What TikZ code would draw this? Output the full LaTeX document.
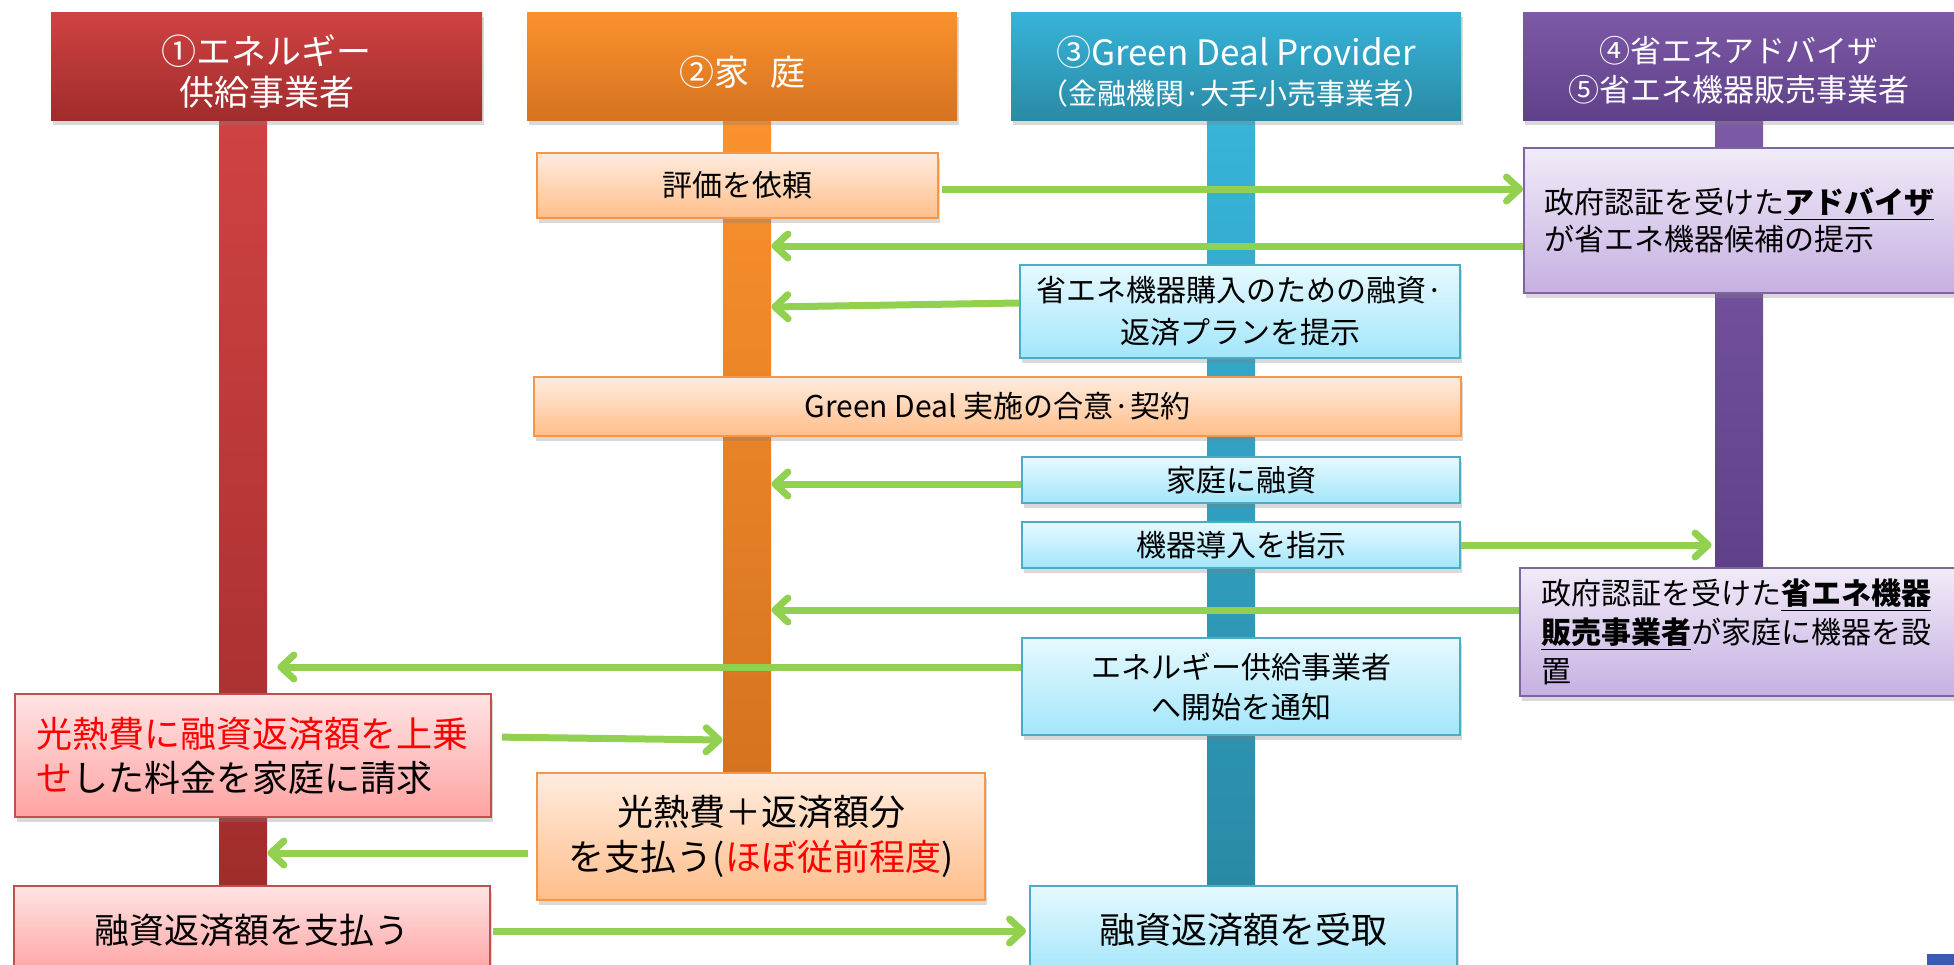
\documentclass[tikz,border=0pt]{standalone}
\usepackage{fontspec}
\setmainfont{Noto Sans CJK JP}
\usetikzlibrary{arrows.meta,shadows}
\definecolor{grn}{HTML}{92D050}
\definecolor{hr1}{HTML}{D04242}
\definecolor{hr2}{HTML}{A02C2C}
\definecolor{ho1}{HTML}{FA912D}
\definecolor{ho2}{HTML}{D57320}
\definecolor{hc1}{HTML}{37B4D9}
\definecolor{hc2}{HTML}{2A8AA5}
\definecolor{hp1}{HTML}{7D59A7}
\definecolor{hp2}{HTML}{5F4189}
\definecolor{lo1}{HTML}{FFECDF}
\definecolor{lo2}{HTML}{FFBE8A}
\definecolor{lob}{HTML}{F79646}
\definecolor{lc1}{HTML}{E6F9FF}
\definecolor{lc2}{HTML}{A3E6FA}
\definecolor{lcb}{HTML}{4BACC6}
\definecolor{lp1}{HTML}{F1EBF8}
\definecolor{lp2}{HTML}{C6B0E2}
\definecolor{lpb}{HTML}{8064A2}
\definecolor{lr1}{HTML}{FFE4E4}
\definecolor{lr2}{HTML}{FFA2A2}
\definecolor{lrb}{HTML}{C0504D}
\definecolor{txtred}{HTML}{FF0000}
\definecolor{corner}{HTML}{3A5BB0}
\begin{document}
\begin{tikzpicture}[x=0.5pt,y=-0.5pt,
  sz/.style 2 args={minimum width=#1*0.5pt, minimum height=#2*0.5pt},
  shad/.style={drop shadow={shadow xshift=1pt,shadow yshift=-2.5pt,opacity=.3}},
  barbase/.style={inner sep=0, draw=none},
  barr/.style={barbase, top color=hr1, bottom color=hr2},
  baro/.style={barbase, top color=ho1, bottom color=ho2},
  barc/.style={barbase, top color=hc1, bottom color=hc2},
  barp/.style={barbase, top color=hp1, bottom color=hp2},
  hdr/.style={inner sep=0, draw=none, shad},
  hred/.style={hdr, top color=hr1, bottom color=hr2},
  hora/.style={hdr, top color=ho1, bottom color=ho2},
  hcya/.style={hdr, top color=hc1, bottom color=hc2},
  hpur/.style={hdr, top color=hp1, bottom color=hp2},
  htext/.style={inner sep=0, text=white, align=center},
  lbox/.style={inner sep=0, line width=1pt, align=center, text=black, shad,
    font=\fontsize{15pt}{20pt}\selectfont},
  obox/.style={lbox, draw=lob, top color=lo1, bottom color=lo2},
  cbox/.style={lbox, draw=lcb, top color=lc1, bottom color=lc2},
  pbox/.style={lbox, draw=lpb, top color=lp1, bottom color=lp2, align=left},
  rbox/.style={lbox, draw=lrb, top color=lr1, bottom color=lr2},
  arr/.style={draw=grn, line width=3.5pt, -{Straight Barb[length=6.5pt,width=12pt,round]}}
]
\useasboundingbox (0,0) rectangle (1954,964);
\clip (0,0) rectangle (1954,964);

% lifelines
\node[barr, sz={48}{766}] (bar1) at (243,503) {};
\node[baro, sz={48}{655}] (bar2) at (747,447.5) {};
\node[barc, sz={48}{766}] (bar3) at (1231,503) {};
\node[barp, sz={48}{448}] (bar4) at (1739,344) {};

% headers
\node[hred, sz={431}{108}] (h1) at (266.5,66) {};
\node[hora, sz={430}{108}] (h2) at (742,66) {};
\node[hcya, sz={450}{108}] (h3) at (1236,66) {};
\node[hpur, sz={432}{108}] (h4) at (1739,66) {};
\node[htext, font=\fontsize{17.5pt}{20.5pt}\selectfont] (h1t) at (266.5,72) {①エネルギー\\供給事業者};
\node[htext, font=\fontsize{17.5pt}{20.5pt}\selectfont] (h2t) at (742,72) {②家\hspace{0.6em}庭};
\node[htext, font=\fontsize{17.5pt}{19.5pt}\selectfont] (h3t) at (1236,72) {③Green Deal Provider\\{\fontsize{14.5pt}{19.5pt}\selectfont （金融機関·大手小売事業者）}};
\node[htext, font=\fontsize{15.5pt}{19.5pt}\selectfont] (h4t) at (1739,70) {④省エネアドバイザ\\⑤省エネ機器販売事業者};

% boxes
\node[obox, sz={401}{65}] (eval) at (737.5,185.5) {評価を依頼};
\node[pbox, minimum height=145*0.5pt, text width=205pt, inner xsep=10pt, anchor=west,
  font=\fontsize{15pt}{18.5pt}\selectfont] (adv1) at (1523,220.5)
  {政府認証を受けた\underline{\textbf{アドバイザ}}\\が省エネ機器候補の提示};
\node[cbox, sz={440}{93}, font=\fontsize{15pt}{21pt}\selectfont] (plan) at (1240,311.5) {省エネ機器購入のための融資·\\返済プランを提示};
\node[obox, sz={927}{59}, font=\fontsize{15pt}{18pt}\selectfont] (agree) at (997.5,406.5) {Green Deal 実施の合意·契約};
\node[cbox, sz={438}{46}] (loan) at (1241,480) {家庭に融資};
\node[cbox, sz={438}{46}] (inst) at (1241,545) {機器導入を指示};
\node[pbox, minimum height=128*0.5pt, text width=205pt, inner xsep=10.5pt, anchor=west,
  font=\fontsize{15pt}{19.5pt}\selectfont] (inst2) at (1519,632)
  {政府認証を受けた\underline{\textbf{省エネ機器}}\\\underline{\textbf{販売事業者}}が家庭に機器を設\\置};
\node[cbox, sz={438}{97}] (notify) at (1241,686.5) {エネルギー供給事業者\\へ開始を通知};
\node[rbox, align=left, minimum height=123*0.5pt, text width=217pt, inner xsep=10.5pt, anchor=west,
  font=\fontsize{18pt}{22pt}\selectfont] (bill) at (14,755.5)
  {\textcolor{txtred}{光熱費に融資返済額を上乗}\\\textcolor{txtred}{せ}した料金を家庭に請求};
\node[obox, sz={448}{127}, font=\fontsize{18pt}{22.5pt}\selectfont] (pay) at (761,836.5)
  {光熱費＋返済額分\\を支払う(\textcolor{txtred}{ほぼ従前程度})};
\node[rbox, sz={476}{88}, font=\fontsize{17.5pt}{21pt}\selectfont] (repay) at (252,930) {融資返済額を支払う};
\node[cbox, sz={427}{88}, font=\fontsize{18pt}{21pt}\selectfont] (recv) at (1243.5,930) {融資返済額を受取};

% corner fragment
\fill[corner] (1927,954) rectangle (1960,970);

% messages
\draw[arr, shorten <=1.5pt] (eval.east |- 0,189) -- (adv1.west |- 0,189);
\draw[arr] (adv1.west |- 0,246) -- (bar2.east |- 0,246);
\draw[arr] (plan.west |- 0,303) -- (bar2.east |- 0,307);
\draw[arr] (loan.west |- 0,484) -- (bar2.east |- 0,484);
\draw[arr, shorten >=1.5pt] (inst.east |- 0,545) -- (bar4.west |- 0,545);
\draw[arr] (inst2.west |- 0,610) -- (bar2.east |- 0,610);
\draw[arr, shorten >=5pt] (notify.west |- 0,667) -- (bar1.east |- 0,667);
\draw[arr, shorten <=5pt] (bill.east |- 0,737) -- (bar2.west |- 0,740);
\draw[arr, shorten <=4pt] (pay.west |- 0,853) -- (bar1.east |- 0,853);
\draw[arr, shorten <=1pt, shorten >=1.5pt] (repay.east |- 0,931) -- (recv.west |- 0,931);
\end{tikzpicture}
\end{document}
